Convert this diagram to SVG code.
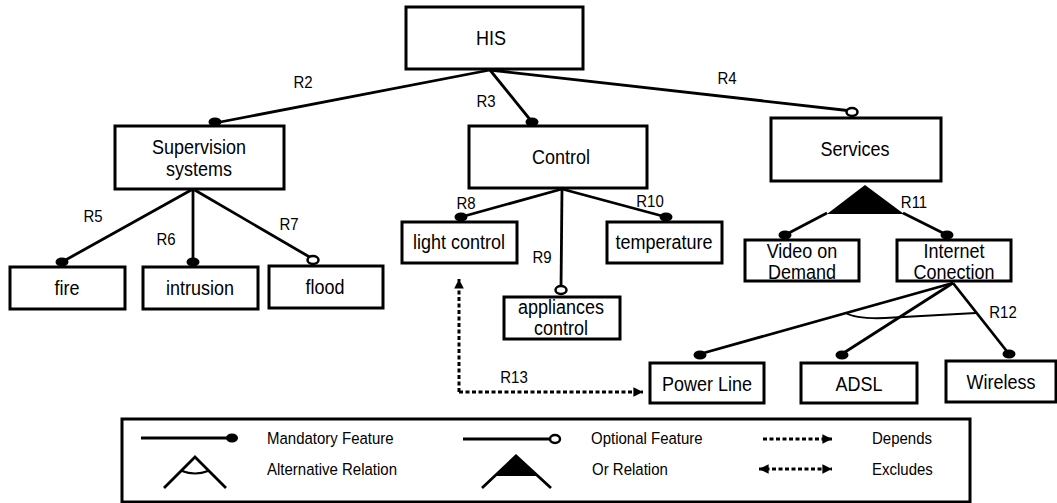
<svg xmlns="http://www.w3.org/2000/svg" width="1057" height="503" viewBox="0 0 1057 503">
<style>
.box{fill:#fff;stroke:#000;stroke-width:3}
.ln{fill:none;stroke:#000;stroke-width:2.8}
.thin{fill:none;stroke:#000;stroke-width:2}
.dash{fill:none;stroke:#000;stroke-width:3;stroke-dasharray:4 2.5}
.dot{fill:#000}
.ring{fill:#fff;stroke:#000;stroke-width:2.5}
.t{font-family:"Liberation Sans",Arial,sans-serif;font-size:18px;fill:#000;text-anchor:middle}
.r{font-family:"Liberation Sans",Arial,sans-serif;font-size:15px;fill:#000;text-anchor:middle}
.lg{font-family:"Liberation Sans",Arial,sans-serif;font-size:15px;fill:#000}
</style>
<defs>
<marker id="ah" viewBox="0 0 10 10" refX="10" refY="5" markerWidth="3.2" markerHeight="3.2" orient="auto-start-reverse" markerUnits="strokeWidth">
<path d="M0,0 L10,5 L0,10 Z" fill="#000"/>
</marker>
</defs>
<rect width="1057" height="503" fill="#fff"/>
<g id="connectors">
<line class="ln" x1="490" y1="70" x2="215" y2="123"/>
<line class="ln" x1="490" y1="70" x2="532" y2="122"/>
<line class="ln" x1="490" y1="70" x2="852" y2="111"/>
<line class="ln" x1="193" y1="189" x2="62" y2="262"/>
<line class="ln" x1="193" y1="189" x2="193" y2="262"/>
<line class="ln" x1="193" y1="189" x2="313" y2="259"/>
<line class="ln" x1="562" y1="189" x2="461" y2="217"/>
<line class="ln" x1="562" y1="189" x2="561" y2="289"/>
<line class="ln" x1="562" y1="189" x2="666" y2="217"/>
<polygon points="865,185 827,214 904,214" fill="#000"/>
<line class="ln" x1="827" y1="213" x2="785" y2="235"/>
<line class="ln" x1="903" y1="213" x2="947" y2="235"/>
<line class="ln" x1="953" y1="283" x2="700" y2="354"/>
<line class="ln" x1="953" y1="283" x2="842" y2="354"/>
<line class="ln" x1="953" y1="283" x2="1009" y2="354"/>
<path class="thin" d="M846,313 Q856,319 885,318 L976,313"/>
<path class="dash" d="M459,392 L459,279" marker-end="url(#ah)"/>
<path class="dash" d="M459,392 L643,392" marker-end="url(#ah)"/>
<ellipse class="dot" cx="215" cy="122" rx="6.5" ry="4.5"/>
<ellipse class="dot" cx="532" cy="122" rx="6.5" ry="4.5"/>
<ellipse class="ring" cx="852" cy="112" rx="5.5" ry="4"/>
<ellipse class="dot" cx="62" cy="262" rx="6.5" ry="4.5"/>
<ellipse class="dot" cx="193" cy="262" rx="6.5" ry="4.5"/>
<ellipse class="ring" cx="313" cy="260" rx="5.5" ry="4"/>
<ellipse class="dot" cx="461" cy="217" rx="6.5" ry="4.5"/>
<ellipse class="ring" cx="561" cy="290" rx="5.5" ry="4"/>
<ellipse class="dot" cx="666" cy="217" rx="6.5" ry="4.5"/>
<ellipse class="dot" cx="785" cy="235" rx="6.5" ry="4.5"/>
<ellipse class="dot" cx="947" cy="235" rx="6.5" ry="4.5"/>
<ellipse class="dot" cx="700" cy="355" rx="6.5" ry="4.5"/>
<ellipse class="dot" cx="842" cy="355" rx="6.5" ry="4.5"/>
<ellipse class="dot" cx="1009" cy="354" rx="6.5" ry="4.5"/>
<text class="r" transform="translate(303,88) scale(1,1.12)">R2</text>
<text class="r" transform="translate(486,107) scale(1,1.12)">R3</text>
<text class="r" transform="translate(727,84) scale(1,1.12)">R4</text>
<text class="r" transform="translate(93,222) scale(1,1.12)">R5</text>
<text class="r" transform="translate(166,245) scale(1,1.12)">R6</text>
<text class="r" transform="translate(289,230) scale(1,1.12)">R7</text>
<text class="r" transform="translate(466,209) scale(1,1.12)">R8</text>
<text class="r" transform="translate(542,263) scale(1,1.12)">R9</text>
<text class="r" transform="translate(650,207) scale(1,1.12)">R10</text>
<text class="r" transform="translate(914,208) scale(1,1.12)">R11</text>
<text class="r" transform="translate(1003,318) scale(1,1.12)">R12</text>
<text class="r" transform="translate(514,383) scale(1,1.12)">R13</text>
</g>
<g id="his"><rect class="box" x="406" y="7" width="177" height="62"/><text class="t" transform="translate(491,45) scale(1,1.12)">HIS</text></g>
<g id="supervision"><rect class="box" x="115" y="126" width="169" height="63"/><text class="t" transform="translate(199,154) scale(1,1.12)">Supervision</text><text class="t" transform="translate(199,176) scale(1,1.12)">systems</text></g>
<g id="control"><rect class="box" x="469" y="126" width="178" height="62"/><text class="t" transform="translate(561,164) scale(1,1.12)">Control</text></g>
<g id="services"><rect class="box" x="771" y="118" width="170" height="63"/><text class="t" transform="translate(855,156) scale(1,1.12)">Services</text></g>
<g id="fire"><rect class="box" x="10" y="267" width="115" height="42"/><text class="t" transform="translate(67,295) scale(1,1.12)">fire</text></g>
<g id="intrusion"><rect class="box" x="143" y="267" width="115" height="42"/><text class="t" transform="translate(200,295) scale(1,1.12)">intrusion</text></g>
<g id="flood"><rect class="box" x="269" y="266" width="114" height="42"/><text class="t" transform="translate(325,294) scale(1,1.12)">flood</text></g>
<g id="light"><rect class="box" x="402" y="222" width="115" height="41"/><text class="t" transform="translate(459,249) scale(1,1.12)">light control</text></g>
<g id="temperature"><rect class="box" x="607" y="222" width="115" height="41"/><text class="t" transform="translate(664,249) scale(1,1.12)">temperature</text></g>
<g id="appliances"><rect class="box" x="504" y="297" width="116" height="42"/><text class="t" transform="translate(561,314) scale(1,1.12)">appliances</text><text class="t" transform="translate(561,335) scale(1,1.12)">control</text></g>
<g id="video"><rect class="box" x="745" y="240" width="114" height="41"/><text class="t" transform="translate(802,258) scale(1,1.12)">Video on</text><text class="t" transform="translate(802,279) scale(1,1.12)">Demand</text></g>
<g id="internet"><rect class="box" x="897" y="240" width="114" height="41"/><text class="t" transform="translate(954,258) scale(1,1.12)">Internet</text><text class="t" transform="translate(954,279) scale(1,1.12)">Conection</text></g>
<g id="powerline"><rect class="box" x="650" y="363" width="114" height="40"/><text class="t" transform="translate(707,391) scale(1,1.12)">Power Line</text></g>
<g id="adsl"><rect class="box" x="801" y="363" width="116" height="40"/><text class="t" transform="translate(859,391) scale(1,1.12)">ADSL</text></g>
<g id="wireless"><rect class="box" x="946" y="361" width="110" height="41"/><text class="t" transform="translate(1001,389) scale(1,1.12)">Wireless</text></g>
<g id="legend">
<rect class="box" x="122" y="419" width="848" height="83"/>
<line class="ln" x1="141" y1="438" x2="232" y2="438"/>
<ellipse class="dot" cx="232" cy="438" rx="6" ry="4.5"/>
<text class="lg" transform="translate(267,444) scale(1,1.15)">Mandatory Feature</text>
<path class="ln" d="M164,488 L195,457 L226,488"/>
<path class="thin" d="M182,471 Q195,476 208,471"/>
<text class="lg" transform="translate(267,475) scale(1,1.15)">Alternative Relation</text>
<line class="ln" x1="463" y1="439" x2="550" y2="439"/>
<ellipse class="ring" cx="555" cy="439" rx="5" ry="4"/>
<text class="lg" transform="translate(591,444) scale(1,1.15)">Optional Feature</text>
<polygon points="516,457 496,476 537,476" fill="#000"/>
<path class="ln" d="M482,488 L516,456 L551,488"/>
<text class="lg" transform="translate(592,475) scale(1,1.15)">Or Relation</text>
<path class="dash" d="M763,439 L832,439" marker-end="url(#ah)"/>
<text class="lg" transform="translate(872,444) scale(1,1.15)">Depends</text>
<path class="dash" d="M759,469 L832,469" marker-start="url(#ah)" marker-end="url(#ah)"/>
<text class="lg" transform="translate(872,475) scale(1,1.15)">Excludes</text>
</g>
</svg>
